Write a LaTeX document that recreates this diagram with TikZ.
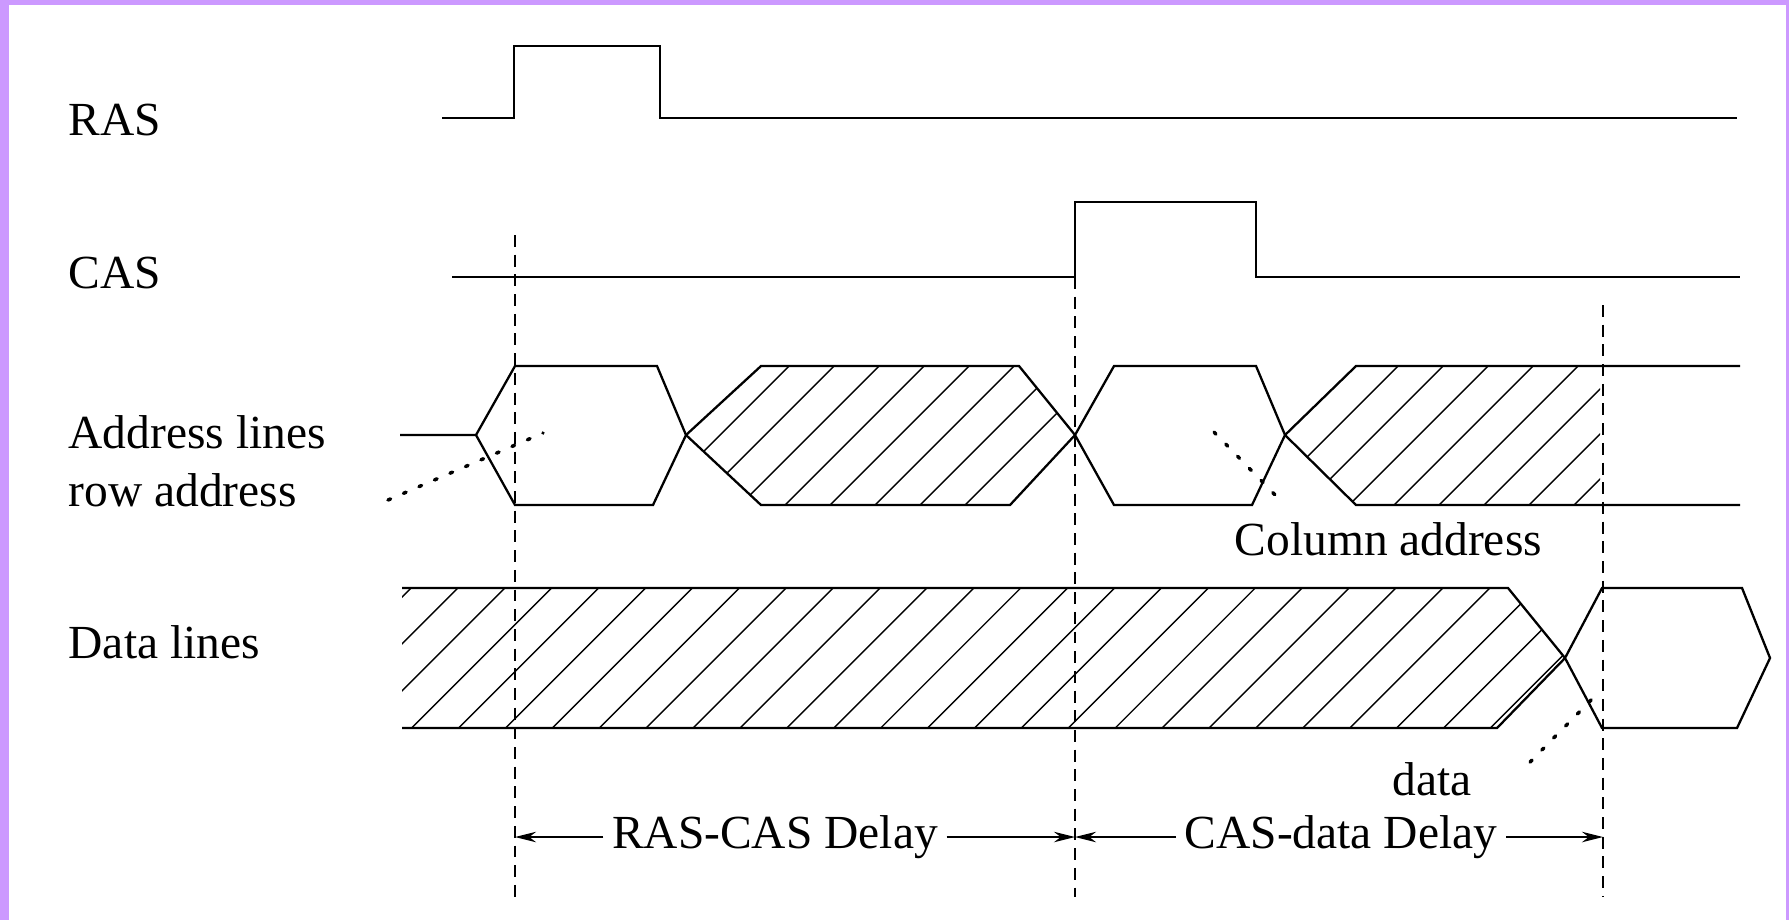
\documentclass[tikz,border=0pt]{standalone}
\usepackage{fontspec}
\setmainfont{Liberation Serif}
\usetikzlibrary{arrows.meta}
\definecolor{frame}{RGB}{204,153,255}

\begin{document}
\begin{tikzpicture}[x=0.01cm,y=-0.01cm]
\tikzstyle{every node}=[font=\fontsize{13.5}{16}\selectfont,inner sep=0pt]
\tikzstyle{lbl}=[anchor=base west]
\tikzstyle{sig}=[line width=0.65pt]
\tikzstyle{hatch}=[line width=0.4pt]
\tikzstyle{guide}=[line width=0.55pt,dash pattern=on 3.4pt off 2.2pt]
\tikzstyle{hint}=[line width=1pt,dash pattern=on 0.8pt off 4pt,line cap=round]
\tikzstyle{dly}=[line width=0.5pt,-{Stealth[length=6pt,width=3pt]}]
\fill[frame] (0,0) rectangle (1789,920);
\fill[white] (9,5) rectangle (1786,920);
\coordinate (t1) at (515,235);
\coordinate (t2) at (1075,277);
\coordinate (t3) at (1603,305);
\node[lbl] (ras) at (68,135) {RAS};
\node[lbl] (cas) at (68,288) {CAS};
\node[lbl] (addr) at (68,448) {Address lines};
\node[lbl] (row) at (68,506) {row address};
\node[lbl] (dlines) at (68,658) {Data lines};
\node[lbl] (col) at (1234,555) {Column address};
\node[lbl] (dat) at (1392,795) {data};
\node[inner xsep=2.3pt] (rcd) at (775,837) {RAS-CAS Delay};
\node[inner xsep=2.3pt] (cdd) at (1341,837) {CAS-data Delay};
\draw[sig] (442,118) -- (514,118) -- (514,46) -- (660,46) -- (660,118) -- (1737,118);
\draw[sig] (452,277) -- (1075,277) -- (1075,202) -- (1256,202) -- (1256,277) -- (1740,277);
\begin{scope}
\clip (686,435) -- (761,366) -- (1019,366) -- (1075,435) -- (1010,505) -- (761,505) -- cycle;
\foreach \k in {0,...,10} \draw[hatch] (744+45*\k,366) -- ++(-139,139);
\end{scope}
\begin{scope}
\clip (1285,435) -- (1356,366) -- (1600,366) -- (1600,505) -- (1356,505) -- cycle;
\foreach \k in {0,...,9} \draw[hatch] (1353+45*\k,366) -- ++(-139,139);
\end{scope}
\begin{scope}
\clip (402,588) -- (1508,588) -- (1565,658) -- (1497,728) -- (402,728) -- cycle;
\foreach \k in {0,...,28} \draw[hatch] (411+46.9*\k,588) -- ++(-140,140);
\end{scope}
\draw[sig] (400,435) -- (476,435) -- (515,366) -- (657,366) -- (686,435) -- (761,505) -- (1010,505) -- (1075,435) -- (1114,366) -- (1256,366) -- (1285,435) -- (1356,505) -- (1740,505);
\draw[sig] (476,435) -- (515,505) -- (653,505) -- (686,435) -- (761,366) -- (1019,366) -- (1075,435) -- (1114,505) -- (1252,505) -- (1285,435) -- (1356,366) -- (1740,366);
\draw[sig] (402,588) -- (1508,588) -- (1565,658) -- (1602,728) -- (1737,728) -- (1770,658) -- (1742,588) -- (1602,588) -- (1565,658) -- (1497,728) -- (402,728);
\draw[guide] (t1) -- ++(0,662);
\draw[guide] (t2) -- ++(0,620);
\draw[guide] (t3) -- ++(0,592);
\draw[hint] (388,500) -- (543,433);
\draw[hint] (1214,432) -- (1280,500);
\draw[hint] (1530,762) -- (1597,694);
\draw[dly] (rcd.west) -- (rcd.west -| t1);
\draw[dly] (rcd.east) -- (rcd.east -| t2);
\draw[dly] (cdd.west) -- (cdd.west -| t2);
\draw[dly] (cdd.east) -- (cdd.east -| t3);
\end{tikzpicture}
\end{document}
